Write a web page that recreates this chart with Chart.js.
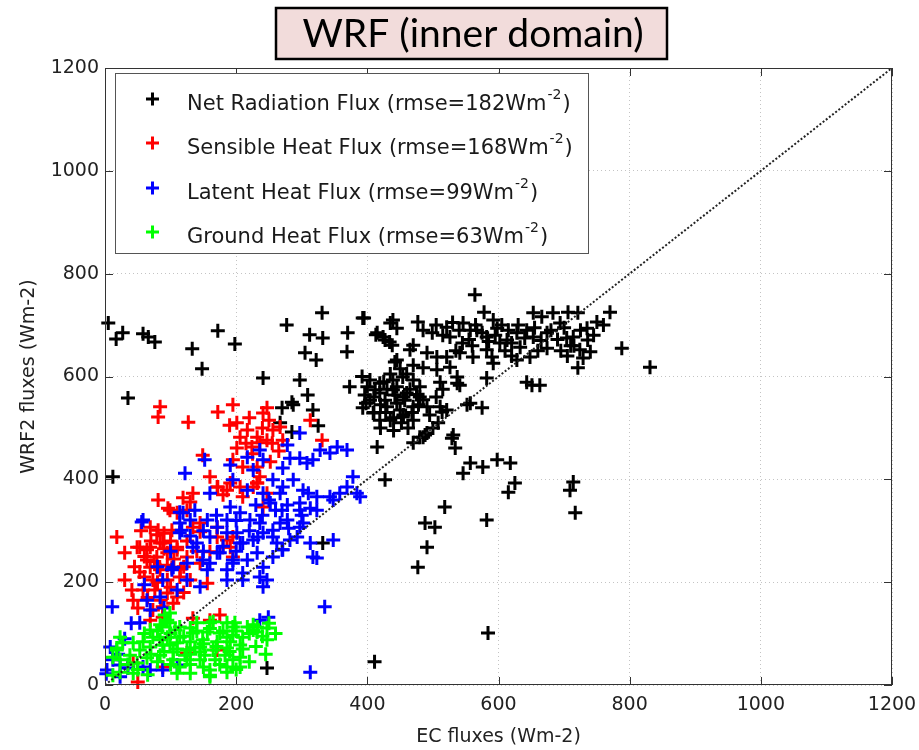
<!DOCTYPE html>
<html>
<head>
<meta charset="utf-8">
<script src="https://cdn.jsdelivr.net/npm/chart.js@4/dist/chart.umd.min.js"></script>
<style>
  body { margin: 0; background: #fff; }
  canvas { display: block; }
</style>
</head>
<body>
<canvas id="chart" width="919" height="750"></canvas>
<script>
// values, [EC flux, WRF flux] in Wm-2
const netRadiation = [
  [5,704],[17,673],[27,685],[58,683],[66,677],[76,667],[133,654],[148,615],[172,689],[198,663],
  [35,558],[12,405],[241,597],[277,700],[297,593],[312,681],[331,724],[332,675],[305,646],[322,632],
  [309,564],[270,539],[285,550],[287,545],[317,535],[325,504],[267,510],[285,492],[370,685],[369,648],
  [393,714],[373,580],[415,463],[427,399],[415,685],[424,677],[434,667],[439,710],[442,628],[332,276],
  [247,33],[411,45],[584,101],
  [564,759],[578,725],[395,714],[413,681],[435,704],[445,694],[427,671],[438,661],[477,706],[485,690],
  [499,685],[470,661],[521,696],[526,677],[546,704],[557,690],[567,690],[592,710],[598,694],[582,677],
  [602,665],[582,652],[590,638],[592,626],[613,671],[628,685],[643,690],[653,724],[666,716],[683,724],
  [706,725],[721,724],[750,706],[770,725],[694,704],[674,685],[653,677],[633,657],[648,638],[628,632],
  [674,655],[704,675],[714,677],[735,694],[736,671],[724,652],[740,648],[729,636],[721,617],[788,655],
  [831,618],[643,589],[651,583],[663,583],[491,646],[506,638],[521,638],[541,646],[561,638],[465,652],
  [445,632],[470,622],[485,617],[506,613],[526,618],[537,599],[511,589],[537,587],[541,583],[582,597],
  [557,548],[575,539],[552,545],[404,593],[419,587],[439,593],[454,599],[470,593],[480,580],[419,568],
  [439,574],[460,568],[480,560],[393,539],[409,529],[430,541],[445,548],[470,541],[491,541],[511,541],
  [521,535],[435,515],[454,521],[514,531],[508,510],[531,486],[488,486],[480,482],[404,554],
  [427,554],[442,564],[457,554],[412,574],[396,564],[450,535],[419,515],
  [470,471],[485,482],[491,490],[529,480],[534,461],[546,412],[557,432],[576,424],[598,438],[618,432],
  [625,393],[615,375],[518,346],[488,315],[503,307],[491,268],[477,229],[582,321],[714,395],[709,379],
  [717,335],
  [392,600],[400,580],[410,560],[398,548],[420,545],[428,530],[440,520],[452,510],[462,500],[470,515],
  [455,560],[465,575],[475,565],[485,555],[495,525],[500,500],[505,560],[515,575],[425,590],[435,605],
  [450,615],[460,605],[445,580],[430,575],[410,530],[420,500],[440,495],[455,525],[468,530],[478,545],
  [505,700],[515,680],[530,705],[540,690],[555,672],[565,700],[575,685],[585,668],[595,680],[605,700],
  [615,690],[620,665],[630,700],[640,675],[655,695],[665,670],[680,690],[690,672],[700,695],[710,660],
  [725,690],[745,680],[760,700],[695,650],[705,640],[715,660],[660,650],[610,650],[620,640],[560,660],
  [545,665],[535,650]
];
const sensibleHeat = [
  [84,541],[81,521],[127,511],[172,531],[195,545],[201,510],[217,496],[232,482],[247,539],[241,529],
  [256,496],[267,502],[271,476],[313,515],[331,476],[247,476],[236,471],[224,463],[206,482],[201,461],
  [149,447],[195,438],[210,424],[232,424],[252,434],[236,405],[232,393],[160,405],[172,385],[186,379],
  [206,385],[180,370],[210,366],[247,373],[241,346],[134,373],[119,364],[81,360],[96,344],[110,335],
  [69,307],[81,301],[102,301],[18,288],[30,257],[53,268],[69,268],[84,276],[95,257],[110,263],
  [64,243],[79,229],[95,233],[53,220],[125,249],[160,259],[191,268],[171,288],[145,298],[195,249],
  [186,282],[49,268],[99,340],[79,292],[88,276],[64,263],[79,249],[110,268],[69,229],[84,224],
  [102,228],[73,204],[95,204],[114,210],[30,204],[41,185],[43,165],[58,185],[76,185],[95,179],
  [110,171],[104,159],[88,152],[73,146],[88,132],[69,126],[130,204],[145,237],[156,198],[134,307],
  [171,307],[195,288],[180,268],[191,393],[171,385],[226,385],[232,393],[175,136],[134,130],[160,126],
  [50,6],[43,43],[88,35],[125,62],[171,68],[145,315],[125,340],[130,356],
  [45,230],[60,250],[75,240],[90,265],[105,245],[115,225],[60,210],[80,200],[100,190],[120,230],
  [70,280],[90,295],[55,300],[100,280],[125,280],[140,260],[65,170],[50,150],[85,165],[120,180],
  [215,470],[225,450],[240,500],[255,470],[265,455],[220,520],[250,515],[190,505]
];
const latentHeat = [
  [122,412],[152,438],[191,428],[217,443],[236,457],[241,438],[226,418],[297,490],[278,467],[282,441],
  [297,441],[308,432],[317,438],[328,457],[343,451],[354,463],[369,457],[271,422],[287,399],[256,399],
  [271,385],[302,379],[267,373],[378,405],[389,366],[369,385],[358,373],[343,366],[323,366],[310,373],
  [297,354],[313,344],[278,350],[252,354],[217,379],[241,373],[195,399],[160,373],[191,346],[206,335],
  [221,321],[236,315],[186,321],[171,307],[156,321],[137,340],[119,335],[114,315],[130,321],[58,321],
  [114,296],[140,276],[160,288],[186,296],[201,296],[206,276],[226,282],[241,296],[256,301],[267,315],
  [262,276],[282,282],[297,307],[313,276],[317,249],[348,282],[293,288],[232,257],[217,243],[195,243],
  [171,257],[149,243],[125,237],[104,229],[156,224],[186,224],[210,218],[241,229],[256,249],[271,263],
  [56,317],[114,336],[117,301],[102,224],[88,204],[125,204],[145,191],[110,185],[84,171],[64,165],
  [69,146],[53,121],[11,152],[160,237],[134,268],[175,257],[195,237],[210,204],[241,191],[247,204],
  [186,204],[236,210],[302,315],[323,247],[335,152],[249,132],[236,126],[313,25],[3,29],[2,22],
  [12,49],[23,39],[35,33],[58,35],[69,29],[88,29],[110,39],[8,74],[23,16],[323,340],
  [348,360],[384,373],[297,340],[278,321],[256,288],[270,263],[233,288],[210,276],
  [150,300],[170,330],[200,320],[220,300],[240,330],[260,340],[280,305],[300,330],[250,360],[270,340],
  [230,350],[180,270],[200,260],[150,260],[130,290],[100,260],[80,230],[60,195],[90,150],[40,120],
  [30,90],[20,60]
];
const groundHeat = [
  [91,136],[99,121],[87,113],[114,113],[140,121],[165,123],[186,121],[198,121],[217,113],[226,117],
  [247,111],[232,103],[247,88],[210,93],[195,97],[175,101],[156,103],[134,101],[114,93],[95,93],
  [73,93],[58,84],[43,82],[27,82],[18,72],[12,54],[23,49],[38,58],[53,68],[69,74],
  [88,78],[110,82],[130,84],[149,88],[171,84],[191,84],[206,78],[186,72],[165,68],[145,64],
  [125,68],[104,64],[84,58],[64,53],[49,43],[104,49],[125,49],[145,49],[114,35],[206,54],
  [195,49],[186,35],[160,19],[130,23],[110,23],[206,35],[23,25],[12,19],[43,23],[232,113],
  [95,126],[99,140],[160,121],[195,113],[226,107],[186,93],[145,74],[160,29],[23,93],[18,68],
  [186,25],[160,16],[69,107],[84,88],[99,78],[122,58],[137,72],[152,58],[168,49],[183,58],
  [84,117],[130,111],[107,107],
  [60,100],[80,105],[100,100],[120,95],[140,105],[160,110],[180,105],[200,105],[220,100],[240,95],
  [70,60],[90,65],[110,70],[130,60],[150,80],[170,75],[190,65],[210,70],[230,75],[100,40],
  [130,40],[150,35],[175,40],[200,30],[220,45],[245,60],[260,100],[250,120],[35,40],[50,30],
  [80,45],[65,20]
];
const oneToOne = [[0,0],[1200,1200]];

const axisTicks = [0, 200, 400, 600, 800, 1000, 1200];
const legendLabels = [
  ['Net Radiation Flux (rmse=182Wm', '-2', ')'],
  ['Sensible Heat Flux (rmse=168Wm', '-2', ')'],
  ['Latent Heat Flux (rmse=99Wm', '-2', ')'],
  ['Ground Heat Flux (rmse=63Wm', '-2', ')']
];
const seriesColors = ['#000000', '#ff0000', '#0000ff', '#00ff00'];
const titleText = 'WRF (inner domain)';

const toPoints = arr => arr.map(([x, y]) => ({ x, y }));
const FONT = '"DejaVu Sans", sans-serif';

function scatterSet (data, color, order) {
  return {
    type: 'scatter',
    data: toPoints(data),
    pointStyle: 'cross',
    pointRadius: 7,
    pointHoverRadius: 7,
    borderColor: color,
    backgroundColor: color,
    pointBorderWidth: 3,
    clip: false,
    order
  };
}

// title box, legend box and the matlab style frame with inner ticks
const decorations = {
  id: 'decorations',
  afterDatasetsDraw (chart) {
    const { ctx, chartArea: a, scales } = chart;
    ctx.save();
    // frame
    ctx.strokeStyle = '#333';
    ctx.lineWidth = 1;
    ctx.strokeRect(a.left + 0.5, a.top + 0.5, a.right - a.left - 1, a.bottom - a.top - 1);
    ctx.beginPath();
    axisTicks.forEach(v => {
      const x = Math.round(scales.x.getPixelForValue(v)) + 0.5;
      const y = Math.round(scales.y.getPixelForValue(v)) + 0.5;
      ctx.moveTo(x, a.bottom); ctx.lineTo(x, a.bottom - 8);
      ctx.moveTo(x, a.top); ctx.lineTo(x, a.top + 8);
      ctx.moveTo(a.left, y); ctx.lineTo(a.left + 8, y);
      ctx.moveTo(a.right, y); ctx.lineTo(a.right - 8, y);
    });
    ctx.stroke();

    // legend
    const lx = 115, ly = 73, lw = 473, lh = 180;
    ctx.fillStyle = '#fff';
    ctx.fillRect(lx, ly, lw, lh);
    ctx.strokeStyle = '#555';
    ctx.strokeRect(lx + 0.5, ly + 0.5, lw, lh);
    const rowY = [99, 143, 188, 232];
    legendLabels.forEach((parts, i) => {
      const y = rowY[i];
      ctx.strokeStyle = seriesColors[i];
      ctx.lineWidth = 3;
      ctx.beginPath();
      ctx.moveTo(146, y); ctx.lineTo(159, y);
      ctx.moveTo(152.5, y - 6.5); ctx.lineTo(152.5, y + 6.5);
      ctx.stroke();
      ctx.fillStyle = '#1a1a1a';
      ctx.textBaseline = 'alphabetic';
      ctx.textAlign = 'left';
      ctx.font = '21px ' + FONT;
      let x = 187;
      ctx.fillText(parts[0], x, y + 11);
      x += ctx.measureText(parts[0]).width + 1;
      ctx.font = '14px ' + FONT;
      ctx.fillText(parts[1], x, y);
      x += ctx.measureText(parts[1]).width + 1;
      ctx.font = '21px ' + FONT;
      ctx.fillText(parts[2], x, y + 11);
    });

    // title box
    ctx.fillStyle = '#f2dcdb';
    ctx.fillRect(276, 8, 391, 51);
    ctx.strokeStyle = '#000';
    ctx.lineWidth = 2.5;
    ctx.strokeRect(276, 8, 391, 51);
    ctx.fillStyle = '#000';
    ctx.font = '39px Lato, "Open Sans", sans-serif';
    ctx.textAlign = 'center';
    ctx.textBaseline = 'middle';
    ctx.fillText(titleText, 473, 34);
    ctx.restore();
  }
};

const gridStyle = { color: '#c4c4c4', lineWidth: 1, drawTicks: false };

new Chart(document.getElementById('chart').getContext('2d'), {
  type: 'scatter',
  data: {
    datasets: [
      {
        type: 'line',
        data: toPoints(oneToOne),
        borderColor: '#222',
        borderWidth: 2,
        borderDash: [2, 2],
        pointRadius: 0,
        fill: false,
        order: 0
      },
      scatterSet(groundHeat, seriesColors[3], 1),
      scatterSet(latentHeat, seriesColors[2], 2),
      scatterSet(sensibleHeat, seriesColors[1], 3),
      scatterSet(netRadiation, seriesColors[0], 4)
    ]
  },
  options: {
    responsive: false,
    animation: false,
    events: [],
    layout: { padding: { top: 68, right: 27, left: 0, bottom: 0 } },
    plugins: { legend: { display: false }, tooltip: { enabled: false } },
    scales: {
      x: {
        type: 'linear',
        min: 0,
        max: 1200,
        afterBuildTicks: s => { s.ticks = axisTicks.map(v => ({ value: v })); },
        afterFit: s => { s.height = 65; s.paddingLeft = 0; s.paddingRight = 0; },
        grid: gridStyle,
        border: { display: false, dash: [1, 3] },
        ticks: { color: '#222', font: { family: FONT, size: 19 }, padding: 9, callback: v => String(v) },
        title: {
          display: true,
          text: 'EC fluxes (Wm-2)',
          color: '#222',
          font: { family: FONT, size: 19 },
          padding: { top: 0, bottom: 2 }
        }
      },
      y: {
        type: 'linear',
        min: 0,
        max: 1200,
        afterBuildTicks: s => { s.ticks = axisTicks.map(v => ({ value: v })); },
        afterFit: s => { s.width = 105; s.paddingTop = 0; s.paddingBottom = 0; },
        grid: gridStyle,
        border: { display: false, dash: [1, 3] },
        ticks: { color: '#222', font: { family: FONT, size: 19 }, padding: 6, callback: v => String(v) },
        title: {
          display: true,
          text: 'WRF2 fluxes (Wm-2)',
          color: '#222',
          font: { family: FONT, size: 19 },
          padding: { top: 18, bottom: 0 }
        }
      }
    }
  },
  plugins: [decorations]
});
</script>
</body>
</html>
